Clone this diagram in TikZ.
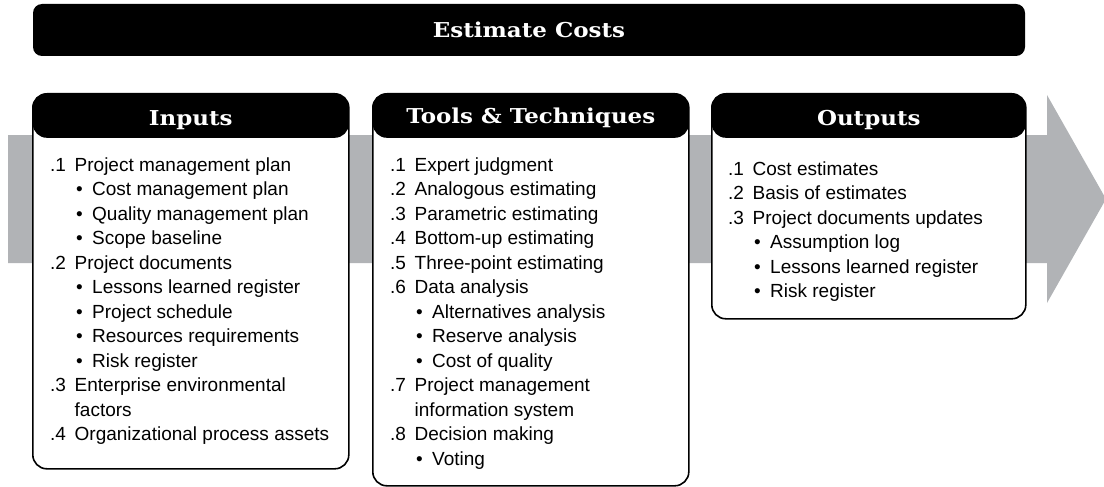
\documentclass[tikz,border=0pt]{standalone}
\usepackage{fontspec}
\setmainfont{Liberation Sans}
\newfontfamily\slabfont[FakeStretch=1.12]{DejaVu Serif}
\usetikzlibrary{positioning}
\definecolor{flowgray}{RGB}{177,179,182}
\newcommand{\numitem}[2]{\makebox[24.5pt][l]{#1}#2}
\newcommand{\bulitem}[1]{\hspace*{26pt}\makebox[16pt][l]{\textbullet}#1}
\newcommand{\contline}[1]{\hspace*{24.5pt}#1}

\begin{document}
\begin{tikzpicture}[x=1pt,y=-1pt,
  titlebar/.style={fill=black, rounded corners=9pt, minimum width=992pt, minimum height=52pt, inner sep=0pt},
  panel/.style={draw=black, line width=1.6pt, rounded corners=14pt, fill=white, anchor=north west, inner sep=0pt,
    path picture={\fill[black] (path picture bounding box.north west) rectangle ([yshift=-44pt]path picture bounding box.north east);}},
  headtext/.style={anchor=base, text=white, inner sep=0pt, font=\slabfont\bfseries\fontsize{20.5}{24}\selectfont},
  listtext/.style={anchor=base west, align=left, inner sep=0pt, font=\fontsize{19}{24.5}\selectfont}]
  \useasboundingbox (0,0) rectangle (1104,487);

  \fill[flowgray] (8,135) -- (1047,135) -- (1047,95) -- (1106,199) -- (1047,303) -- (1047,263) -- (8,263) -- cycle;

  \node[titlebar] (title) at (529,30) {};
  \node[headtext] (title-text) at ([yshift=-8pt]title.center) {Estimate Costs};

  \node[panel, minimum width=316pt, minimum height=375pt] (inputs) at (32,93) {};
  \node[panel, minimum width=316pt, minimum height=392pt] (tools) at (372,93) {};
  \node[panel, minimum width=314pt, minimum height=225pt] (outputs) at (711,93) {};

  \node[headtext] (inputs-head) at ([yshift=-32pt]inputs.north) {Inputs};
  \node[headtext] (tools-head) at ([yshift=-31pt]tools.north) {Tools \& Techniques};
  \node[headtext] (outputs-head) at ([yshift=-32pt]outputs.north) {Outputs};

  \node[listtext] (inputs-list) at ([xshift=18pt,yshift=-347.5pt]inputs.north west) {
    \numitem{.1}{Project management plan}\\
    \bulitem{Cost management plan}\\
    \bulitem{Quality management plan}\\
    \bulitem{Scope baseline}\\
    \numitem{.2}{Project documents}\\
    \bulitem{Lessons learned register}\\
    \bulitem{Project schedule}\\
    \bulitem{Resources requirements}\\
    \bulitem{Risk register}\\
    \numitem{.3}{Enterprise environmental}\\
    \contline{factors}\\
    \numitem{.4}{Organizational process assets}};

  \node[listtext] (tools-list) at ([xshift=18pt,yshift=-372pt]tools.north west) {
    \numitem{.1}{Expert judgment}\\
    \numitem{.2}{Analogous estimating}\\
    \numitem{.3}{Parametric estimating}\\
    \numitem{.4}{Bottom-up estimating}\\
    \numitem{.5}{Three-point estimating}\\
    \numitem{.6}{Data analysis}\\
    \bulitem{Alternatives analysis}\\
    \bulitem{Reserve analysis}\\
    \bulitem{Cost of quality}\\
    \numitem{.7}{Project management}\\
    \contline{information system}\\
    \numitem{.8}{Decision making}\\
    \bulitem{Voting}};

  \node[listtext] (outputs-list) at ([xshift=17pt,yshift=-204.5pt]outputs.north west) {
    \numitem{.1}{Cost estimates}\\
    \numitem{.2}{Basis of estimates}\\
    \numitem{.3}{Project documents updates}\\
    \bulitem{Assumption log}\\
    \bulitem{Lessons learned register}\\
    \bulitem{Risk register}};
\end{tikzpicture}
\end{document}
